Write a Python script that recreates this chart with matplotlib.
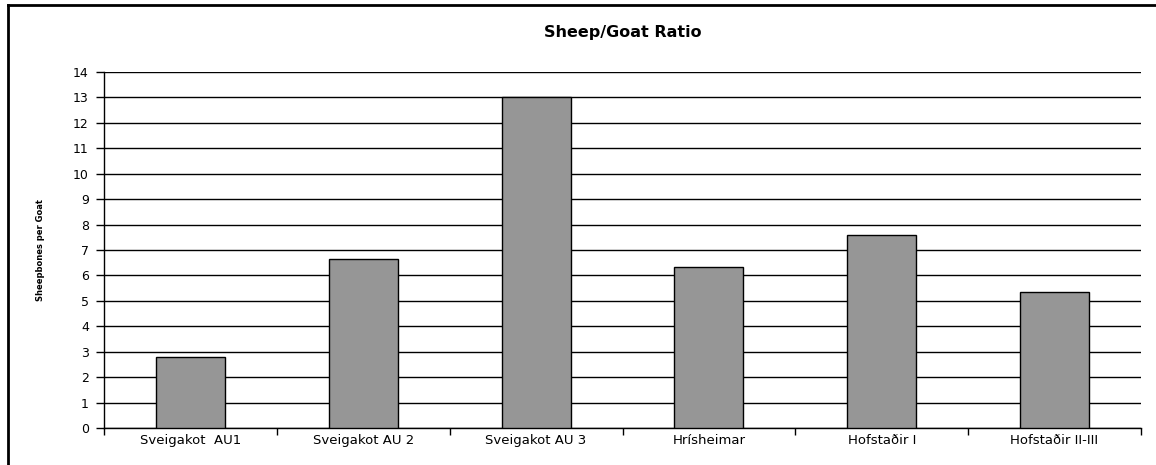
import matplotlib.pyplot as plt
from matplotlib.lines import Line2D
import numpy as np

plt.rcParams['font.family'] = ['DejaVu Sans']

# Datos
sitios = ['Sveigakot  AU1', 'Sveigakot AU 2', 'Sveigakot AU 3',
          'Hrísheimar', 'Hofstaðir I', 'Hofstaðir II-III']
ratio = [2.8, 6.65, 13.0, 6.35, 7.6, 5.35]

fig = plt.figure(figsize=(11.56, 4.65), dpi=100)
ax = fig.add_axes([0.09, 0.0796, 0.897, 0.7655])

x = np.arange(len(sitios))
ax.bar(x, ratio, width=0.4, color='#969696', edgecolor='black', linewidth=1, zorder=3)

ax.set_xlim(-0.5, len(sitios) - 0.5)
ax.set_ylim(0, 14)
ax.set_yticks(range(0, 15))
ax.yaxis.grid(True, color='black', linewidth=1)
ax.set_axisbelow(True)

# Marcas del eje x entre categorías
ax.set_xticks(np.arange(-0.5, len(sitios)), minor=False)
ax.set_xticklabels([])
ax.set_xticks(x, minor=True)
ax.set_xticklabels(sitios, minor=True, fontsize=9.5)
ax.tick_params(axis='x', which='minor', length=0, pad=4)
ax.tick_params(axis='x', which='major', length=5, width=1, direction='out')
ax.tick_params(axis='y', length=6, width=1, labelsize=9, pad=5)

for lado in ['top', 'right']:
    ax.spines[lado].set_visible(False)
ax.spines['left'].set_linewidth(1)
ax.spines['bottom'].set_linewidth(1)

ax.set_title('Sheep/Goat Ratio', fontsize=11.5, fontweight='bold', pad=25)
ax.set_ylabel('Sheepbones per Goat', fontsize=6, fontweight='bold', labelpad=20)

# Marco de la figura
fig.add_artist(Line2D([0.0069, 0.0069], [0, 0.989], color='black', linewidth=2))
fig.add_artist(Line2D([0.0069, 1], [0.989, 0.989], color='black', linewidth=2))

fig.savefig('out.png', dpi=100)
